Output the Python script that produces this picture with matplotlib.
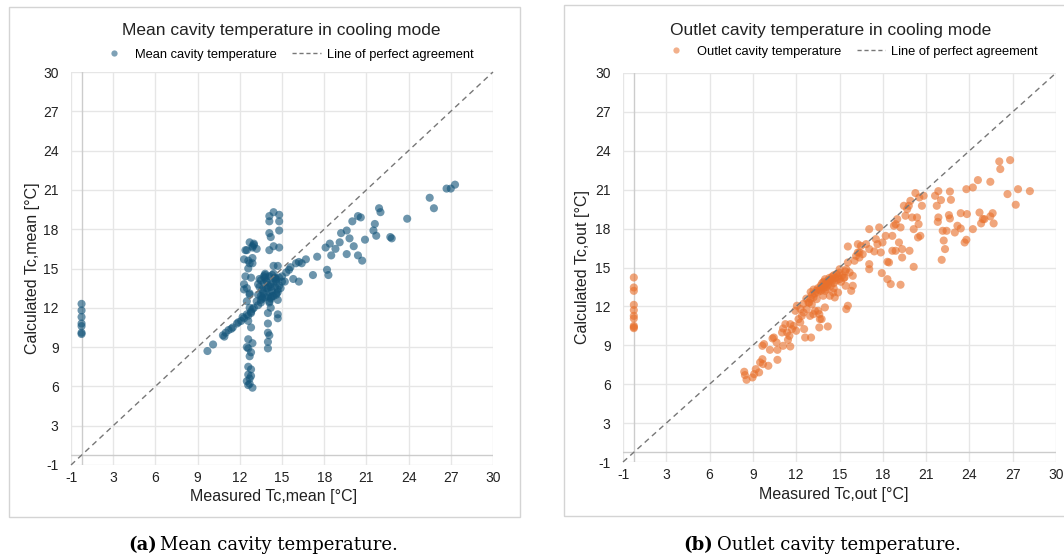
import numpy as np
import matplotlib
matplotlib.use("Agg")
import matplotlib.pyplot as plt
from matplotlib.patches import Rectangle
from matplotlib.lines import Line2D

plt.rcParams['font.family'] = ['Liberation Sans', 'DejaVu Sans']

# ---- data ----
tick_values = [-1, 3, 6, 9, 12, 15, 18, 21, 24, 27, 30]

# (a) mean cavity temperature: measured, calculated
mean_measured = [
    0, 0, 0, 0, 0, 0, 0,
    9.7, 10.1, 10.8, 11.0, 11.2, 11.5, 11.8, 12.1, 12.3, 12.5, 12.8, 13.0, 13.3, 13.5,
    10.9, 11.4, 11.9, 12.2, 12.6, 12.9, 13.2, 13.6,
    12.7, 13.0, 12.9, 12.5, 12.9, 13.2, 12.6, 12.9, 12.6, 12.8, 12.5, 12.7, 12.5, 12.8,
    12.6, 12.8, 12.6, 12.9, 12.6, 12.8, 12.7, 12.6, 12.8, 12.6, 12.7, 12.5, 12.7, 12.6,
    12.9, 12.8, 12.5, 12.7,
    12.4, 12.3, 12.7, 12.9, 13.0, 12.3, 12.4, 12.3, 12.7,
    14.1, 14.4, 14.8, 14.8, 14.1, 14.8, 14.1, 14.2, 14.4, 14.8, 14.1, 14.4, 14.7,
    14.1, 14.2, 14.0, 14.7, 14.7, 14.0, 14.0, 14.1, 14.0, 14.0,
    13.3, 13.4, 13.5, 13.5, 13.6, 13.6, 13.7, 13.7, 13.8, 13.8, 13.9, 13.9, 14.0, 14.0,
    14.1, 14.1, 14.2, 14.2, 14.3, 14.3, 14.4, 14.4, 14.5, 14.5, 14.6, 14.6, 14.7, 14.7,
    14.8, 14.8, 13.4, 13.6, 13.8, 14.0, 14.2, 14.4, 14.6, 13.5, 13.9, 14.3, 14.7, 13.7,
    14.1, 14.5, 13.3, 14.9, 15.0, 14.2, 13.8, 14.6,
    15.3, 15.5, 15.0, 15.2, 15.6, 16.0, 16.2, 16.4, 16.7, 15.8, 16.2, 17.2, 17.5, 18.2,
    18.3, 18.1, 18.4, 18.5, 18.8, 19.1, 19.2, 19.6, 19.8, 19.6, 20.1, 20.4, 20.6, 20.0,
    20.4, 20.7, 20.9, 21.5, 21.7, 21.6, 21.9, 22.0, 22.7, 22.8, 23.9, 25.5, 25.8, 26.7,
    27.0, 27.3,
]
mean_calculated = [
    12.3, 11.8, 11.3, 10.8, 10.6, 10.0, 10.1,
    8.7, 9.2, 9.9, 10.1, 10.3, 10.5, 10.8, 11.0, 11.2, 11.5, 11.7, 12.0, 12.2, 12.4,
    9.8, 10.4, 10.9, 11.3, 11.4, 11.9, 12.5, 12.8,
    17.0, 16.9, 16.7, 16.4, 16.6, 16.5, 15.6, 15.4, 15.0, 14.3, 13.5, 13.0, 12.5, 11.6,
    11.0, 10.5, 9.6, 9.3, 8.9, 8.6, 8.3, 7.5, 7.3, 6.9, 6.6, 6.4, 6.2, 6.1,
    5.9, 6.8, 9.0, 12.0,
    14.4, 13.8, 13.1, 15.8, 16.8, 13.4, 16.4, 15.7, 15.4,
    19.0, 19.3, 19.1, 18.6, 18.6, 17.9, 17.7, 17.4, 16.7, 16.6, 16.4, 15.2, 15.2,
    12.4, 12.0, 11.6, 11.5, 11.2, 10.8, 10.1, 9.9, 9.4, 8.9,
    13.0, 13.6, 12.9, 14.1, 13.4, 12.7, 13.9, 13.1, 14.3, 12.8, 13.5, 14.0, 12.9, 13.7,
    14.4, 13.2, 13.8, 12.8, 14.5, 13.3, 13.9, 12.9, 14.2, 13.6, 13.1, 14.0, 13.4, 12.6,
    14.3, 13.7, 14.2, 13.3, 14.5, 13.5, 12.7, 14.6, 13.0, 12.6, 14.1, 12.9, 13.2, 14.4,
    12.5, 14.3, 13.8, 13.5, 14.0, 13.6, 14.6, 14.2,
    14.7, 14.9, 14.4, 14.0, 15.1, 15.4, 15.5, 15.4, 15.7, 14.2, 14.0, 14.5, 15.9, 14.9,
    14.5, 16.6, 16.9, 16.0, 16.5, 17.0, 17.7, 17.9, 17.3, 16.1, 16.7, 19.0, 18.9, 18.6,
    16.0, 15.6, 17.2, 17.9, 17.5, 18.4, 19.6, 19.3, 17.4, 17.3, 18.8, 20.4, 19.6, 21.1,
    21.1, 21.4,
]

# (b) outlet cavity temperature: measured, calculated
out_measured = [
    0, 0, 0, 0, 0, 0, 0, 0, 0, 0,
    8.4, 8.45, 8.56, 8.97, 9.09, 9.2, 9.43, 9.5, 9.66, 9.7, 9.66, 9.77, 10.07, 10.18,
    10.36, 10.45, 10.64, 10.7, 10.7, 11.09, 11.02, 11.09, 11.25, 11.37, 11.43, 11.53,
    11.59, 11.59, 11.71, 11.82, 11.94, 12.05, 12.0, 12.16, 12.28, 12.39, 12.51, 12.55,
    12.62, 12.73, 12.85, 12.96, 13.08, 13.03, 13.19, 13.3, 13.42, 13.53, 13.6, 13.64,
    13.76, 13.87, 13.99, 14.19, 13.6, 14.1, 14.33, 14.56, 14.67, 14.9, 15.47, 15.58,
    15.81, 15.92, 15.42,
    12.9, 13.0, 13.1, 13.2, 13.3, 13.4, 13.5, 13.5, 13.6, 13.7, 13.7, 13.8, 13.8, 13.9,
    13.9, 14.0, 14.0, 14.1, 14.1, 14.2, 14.2, 14.3, 14.3, 14.4, 14.4, 14.5, 14.5, 14.6,
    14.6, 14.7, 14.8, 14.8, 14.9, 15.0, 15.0, 15.1, 15.2, 15.3, 15.4, 13.2, 13.0, 12.7,
    12.5, 12.3, 14.0, 14.6,
    15.01, 15.35, 15.47, 15.58, 15.7, 15.92, 16.04, 16.15, 16.27, 16.38, 16.49, 16.61,
    15.58, 16.27, 16.38, 17.06, 17.06, 17.06, 17.06, 16.84, 17.41, 17.52, 17.63, 17.75,
    17.86, 17.98, 18.2, 18.32, 18.43, 17.93, 18.32, 18.55, 18.66, 18.77, 18.89, 18.66,
    18.89, 19.0, 19.12, 19.23, 19.34, 19.34, 19.46, 19.57, 19.69, 19.8, 19.91, 20.03,
    20.14, 20.26, 20.37, 20.44, 20.48, 20.6, 20.53, 20.71, 20.83, 20.14, 19.85, 19.23,
    21.62, 21.74, 21.85, 21.85, 21.81, 22.03, 22.15, 22.22, 22.31, 22.42, 22.08, 22.65,
    22.72, 22.58, 22.65, 22.99, 23.17, 23.4, 23.4, 23.67, 23.79, 23.83, 23.79, 24.24,
    24.24, 24.59, 24.7, 24.81, 24.93, 25.04, 25.45, 25.45, 25.61, 25.68, 26.07, 26.14,
    26.64, 26.82, 27.21, 27.37, 28.19,
]
out_calculated = [
    14.23, 13.46, 13.2, 12.12, 11.71, 11.27, 11.07, 10.5, 10.32, 10.4,
    6.96, 6.7, 6.34, 6.52, 6.78, 7.16, 6.91, 7.68, 7.93, 7.55, 8.96, 9.09, 7.42, 8.65,
    9.53, 9.6, 9.22, 8.65, 7.88, 8.96, 9.99, 10.3, 10.63, 9.99, 9.42, 9.73,
    8.91, 10.63, 10.25, 10.5, 11.66, 12.05, 10.12, 11.02, 10.76, 11.27, 11.53, 10.25,
    9.6, 11.79, 12.3, 11.27, 12.17, 9.6, 11.4, 11.66, 12.56, 11.66, 11.4, 11.02,
    11.02, 12.82, 11.92, 10.45, 10.38, 13.33, 12.82, 13.07, 12.69, 13.07, 11.79, 12.05,
    13.2, 13.59, 13.59,
    12.3, 12.6, 12.9, 12.7, 13.0, 13.2, 13.1, 13.4, 13.3, 13.6, 13.2, 13.5, 13.8, 13.4,
    13.9, 13.7, 14.1, 13.8, 13.5, 14.0, 13.7, 14.2, 13.9, 14.1, 13.6, 14.3, 14.0, 14.4,
    13.8, 14.2, 14.5, 14.0, 14.3, 14.6, 14.1, 13.9, 14.4, 14.2, 14.7, 13.3, 13.1, 12.6,
    12.2, 11.8, 13.2, 13.4,
    14.87, 14.23, 14.87, 15.39, 14.62, 14.36, 15.52, 15.9, 16.16, 15.77, 16.67, 16.03,
    16.62, 16.8, 16.16, 16.42, 17.96, 15.26, 14.87, 16.8, 16.24, 17.19, 16.8, 18.09,
    16.16, 16.93, 17.44, 15.44, 15.39, 14.57, 14.1, 13.72, 17.44, 18.22, 18.34, 16.29,
    16.29, 18.73, 16.93, 18.09, 15.77, 16.42, 19.76, 18.99, 19.5, 19.76, 20.14, 18.86,
    17.96, 20.74, 18.86, 17.32, 18.34, 17.44, 20.4, 19.76, 20.53, 15.05, 16.29, 13.67,
    20.53, 19.76, 20.89, 18.86, 18.52, 20.2, 17.83, 17.08, 16.42, 17.83, 15.59, 20.86,
    20.22, 19.04, 18.78, 17.7, 18.22, 18.01, 19.19, 16.93, 17.14, 19.12, 21.04, 21.17,
    17.96, 21.74, 19.24, 18.4, 18.73, 18.73, 21.61, 18.94, 19.19, 18.4, 23.18, 22.59,
    20.66, 23.28, 19.84, 21.04, 20.89,
]

panels = [
    dict(x=mean_measured, y=mean_calculated, color='#14557a',
         title='Mean cavity temperature in cooling mode',
         label='Mean cavity temperature',
         xlabel='Measured Tc,mean [°C]', ylabel='Calculated Tc,mean [°C]',
         cap_tag='(a)', cap_text='Mean cavity temperature.'),
    dict(x=out_measured, y=out_calculated, color='#e8702c',
         title='Outlet cavity temperature in cooling mode',
         label='Outlet cavity temperature',
         xlabel='Measured Tc,out [°C]', ylabel='Calculated Tc,out [°C]',
         cap_tag='(b)', cap_text='Outlet cavity temperature.'),
]


# the ticks are evenly spaced, but -1 -> 3 spans 4 degrees instead of 3
def fwd(v):
    v = np.asarray(v, dtype=float)
    return np.where(v >= 3, v, 3 + (v - 3) * 0.75)


def inv(p):
    p = np.asarray(p, dtype=float)
    return np.where(p >= 3, p, 3 + (p - 3) / 0.75)


W, H = 1064, 560
fig = plt.figure(figsize=(W / 100, H / 100), dpi=100)

axes_px = [(71, 72, 493, 465), (623, 73, 1056, 462)]
box_px = [(9, 7, 520, 517), (564, 5, 1070, 516)]
title_px = [(281, 31), (831, 30)]
legend_px = [(287, 55), (850, 52)]
ylab_px = [33, 583]
xlab_px = [(274, 497), (834, 495)]
cap_px = [(128, 160, 545), (683, 717, 545)]

for p, (x0, y0, x1, y1), bx, tp, lp, yl, xl, cp in zip(
        panels, axes_px, box_px, title_px, legend_px, ylab_px, xlab_px, cap_px):
    # panel frame
    fig.patches.append(Rectangle((bx[0] / W, 1 - bx[3] / H), (bx[2] - bx[0]) / W,
                                 (bx[3] - bx[1]) / H, transform=fig.transFigure,
                                 fill=False, edgecolor='#d4d4d4', lw=1.0))

    ax = fig.add_axes([x0 / W, 1 - y1 / H, (x1 - x0) / W, (y1 - y0) / H])
    ax.set_xscale('function', functions=(fwd, inv))
    ax.set_yscale('function', functions=(fwd, inv))
    ax.set_xlim(-1, 30)
    ax.set_ylim(-1, 30)
    ax.set_xticks(tick_values)
    ax.set_yticks(tick_values)
    ax.set_xticklabels([str(t) for t in tick_values])
    ax.set_yticklabels([str(t) for t in tick_values])
    ax.tick_params(length=0, labelsize=10, colors='#222222')
    ax.tick_params(axis='x', pad=4)
    ax.tick_params(axis='y', pad=9)
    ax.grid(True, color='#e6e6e6', lw=1.0)
    ax.set_axisbelow(True)
    for s in ax.spines.values():
        s.set_visible(False)
    ax.axvline(0, color='#cccccc', lw=1.0, zorder=1)
    ax.axhline(0, color='#cccccc', lw=1.0, zorder=1)

    ax.scatter(p['x'], p['y'], s=34, color=p['color'], alpha=0.62,
               edgecolors='none', zorder=3, clip_on=False)
    ax.plot([-1, 30], [-1, 30], ls=(0, (4, 3)), color='#777777', lw=1.0,
            zorder=4, clip_on=False)

    fig.text(tp[0] / W, 1 - tp[1] / H, p['title'], ha='center', va='center',
             fontsize=12.5, color='#222222')
    fig.text(yl / W, 1 - (y0 + y1) / 2 / H, p['ylabel'], rotation=90,
             ha='center', va='center', fontsize=11.5, color='#222222')
    fig.text(xl[0] / W, 1 - xl[1] / H, p['xlabel'], ha='center', va='center',
             fontsize=11.5, color='#222222')

    handles = [Line2D([], [], ls='none', marker='o', ms=4.5, color=p['color'],
                      alpha=0.55, mec='none'),
               Line2D([], [], ls=(0, (3, 2)), color='#777777', lw=1.0)]
    fig.legend(handles, [p['label'], 'Line of perfect agreement'],
               loc='center', bbox_to_anchor=(lp[0] / W, 1 - lp[1] / H),
               ncol=2, frameon=False, fontsize=9.3, handlelength=2.2,
               handletextpad=0.5, columnspacing=1.2)

    fig.text(cp[0] / W, 1 - cp[2] / H, p['cap_tag'], ha='left', va='center',
             fontsize=13, fontweight='bold', family='DejaVu Serif')
    fig.text(cp[1] / W, 1 - cp[2] / H, p['cap_text'], ha='left', va='center',
             fontsize=13, family='DejaVu Serif')

fig.savefig('out.png', dpi=100)
